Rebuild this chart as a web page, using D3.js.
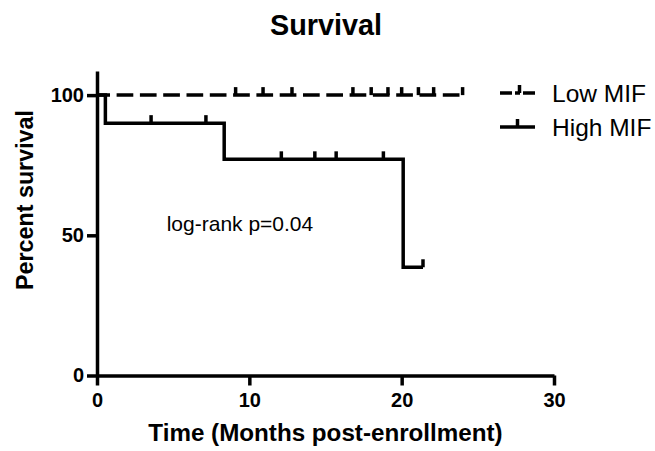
<!DOCTYPE html>
<html>
  <head>
    <title>Survival</title>
    <script src="https://cdn.jsdelivr.net/npm/d3@7"></script>
    <style>
      body { margin: 0; background: #fff; }
      svg { font-family: "Liberation Sans", Arial, sans-serif; }
      .curve { fill: none; stroke: #000; stroke-width: 3.5; }
      .censor { stroke: #000; stroke-width: 3.5; }
    </style>
  </head>
  <body>
    <svg id="chart" width="655" height="451"></svg>
  </body>
  <script>
    // step curves (months, percent surviving)
    const highTimes = [0, 0.55, 8.35, 20.1, 21.4];
    const highSurv = [100, 90, 77.1, 38.6, 38.6];
    const highCensor = [3.55, 7.15, 12.1, 14.3, 15.7, 18.8, 21.4];

    const lowTimes = [0, 24.0];
    const lowSurv = [100, 100];
    const lowCensor = [9.1, 10.9, 12.8, 16.8, 18.0, 19.1, 20.0, 21.1, 22.1, 24.0];

    const xTicks = [0, 10, 20, 30];
    const yTicks = [0, 50, 100];
    const seriesNames = ["Low MIF", "High MIF"];

    const svg = d3.select("#chart");

    const xScale = d3.scaleLinear().domain([0, 30]).range([97, 554]);
    const yScale = d3.scaleLinear().domain([0, 108.6]).range([375.5, 71]);

    // survival at time t for a step curve
    function survAt(times, surv, t) {
      let s = surv[0];
      times.forEach((tt, i) => { if (tt <= t) s = surv[i]; });
      return s;
    }

    const stepLine = d3.line()
      .x(d => xScale(d.t))
      .y(d => yScale(d.s))
      .curve(d3.curveStepAfter);

    function toPoints(times, surv) {
      return times.map((t, i) => ({ t: t, s: surv[i] }));
    }

    // axes
    const yAxis = svg.append("g")
      .attr("transform", `translate(${xScale(0)},0)`)
      .call(d3.axisLeft(yScale).tickValues(yTicks).tickSize(10).tickSizeOuter(0).tickPadding(3));

    const xAxis = svg.append("g")
      .attr("transform", `translate(0,${yScale(0)})`)
      .call(d3.axisBottom(xScale).tickValues(xTicks).tickSize(10).tickSizeOuter(0).tickPadding(7));

    [xAxis, yAxis].forEach(ax => {
      ax.attr("font-family", null).attr("font-size", null);
      ax.selectAll("path, line").attr("stroke", "#000").attr("stroke-width", 3.5);
      ax.selectAll("text")
        .attr("font-size", 20)
        .attr("font-weight", "bold")
        .attr("fill", "#000");
    });

    // curves
    svg.append("path")
      .datum(toPoints(lowTimes, lowSurv))
      .attr("class", "curve")
      .attr("stroke-dasharray", "16.7 6.6")
      .attr("stroke-dashoffset", 3.7)
      .attr("d", stepLine);

    svg.append("path")
      .datum(toPoints(highTimes, highSurv))
      .attr("class", "curve")
      .attr("d", stepLine);

    // censor marks (ticks pointing up)
    function drawCensor(times, surv, censor) {
      svg.append("g")
        .selectAll("line")
        .data(censor)
        .join("line")
        .attr("class", "censor")
        .attr("x1", d => xScale(d))
        .attr("x2", d => xScale(d))
        .attr("y1", d => yScale(survAt(times, surv, d)))
        .attr("y2", d => yScale(survAt(times, surv, d)) - 8);
    }
    drawCensor(lowTimes, lowSurv, lowCensor);
    drawCensor(highTimes, highSurv, highCensor);

    // title and axis titles
    svg.append("text")
      .attr("x", 326).attr("y", 35)
      .attr("text-anchor", "middle")
      .attr("font-size", 28.8).attr("font-weight", "bold")
      .text("Survival");

    svg.append("text")
      .attr("transform", "translate(33,200) rotate(-90)")
      .attr("text-anchor", "middle")
      .attr("font-size", 23.3).attr("font-weight", "bold")
      .text("Percent survival");

    svg.append("text")
      .attr("x", 325.5).attr("y", 441)
      .attr("text-anchor", "middle")
      .attr("font-size", 24.2).attr("font-weight", "bold")
      .text("Time (Months post-enrollment)");

    svg.append("text")
      .attr("x", 166.7).attr("y", 230.7)
      .attr("font-size", 21)
      .text("log-rank p=0.04");

    // legend
    const legend = svg.append("g");
    const legY = [93, 127];
    seriesNames.forEach((name, i) => {
      const y = legY[i];
      const sym = legend.append("line")
        .attr("class", "censor")
        .attr("x1", 500).attr("x2", 535)
        .attr("y1", y).attr("y2", y);
      if (i === 0) sym.attr("stroke-dasharray", "12 3 5 3 12");
      legend.append("line")
        .attr("class", "censor")
        .attr("x1", i === 0 ? 519.5 : 517.5).attr("x2", i === 0 ? 519.5 : 517.5)
        .attr("y1", y).attr("y2", y - 8);
      legend.append("text")
        .attr("x", 552).attr("y", y + 9)
        .attr("font-size", 24.5)
        .text(name);
    });
  </script>
</html>
